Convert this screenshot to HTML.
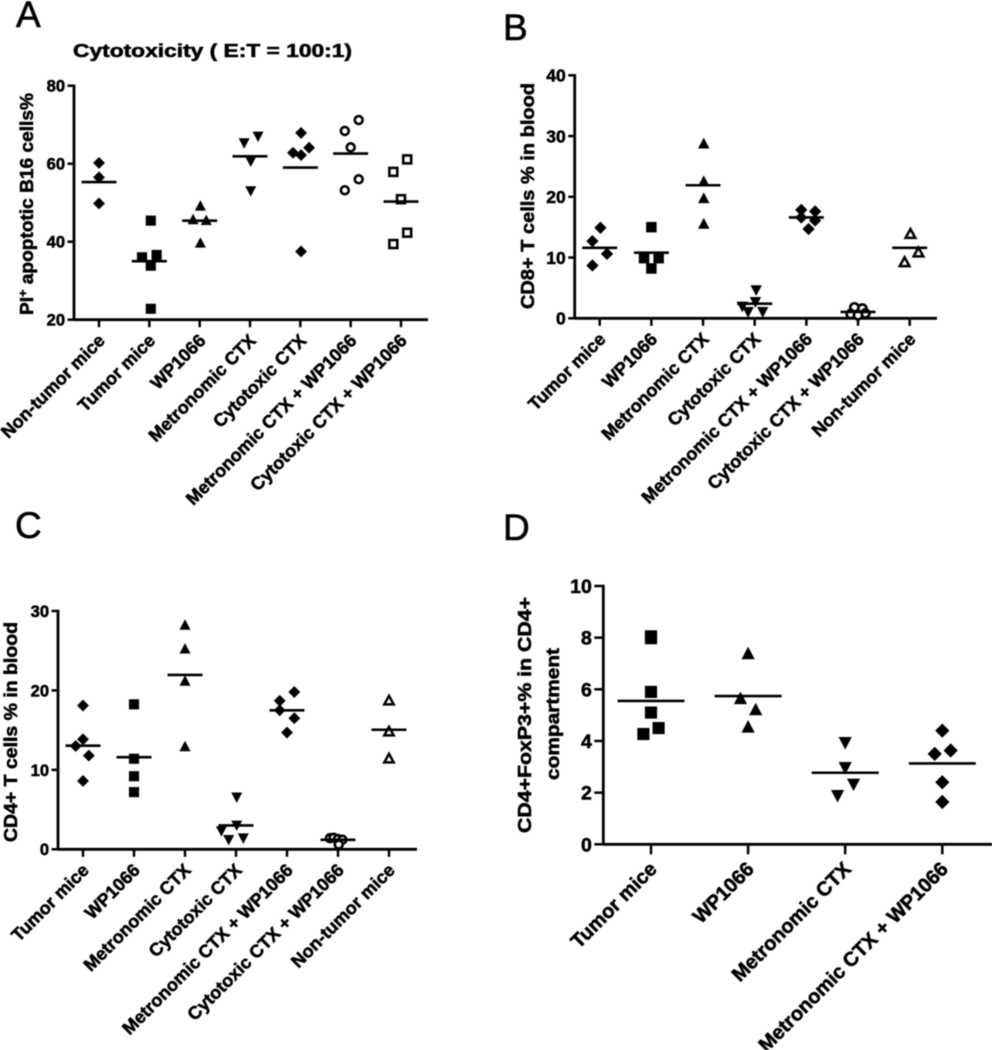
<!DOCTYPE html>
<html lang="en">
<head>
<meta charset="utf-8">
<title>Four-panel scatter dot plots</title>
<style>
html,body{margin:0;padding:0;background:#fff;}
#figure{display:block;width:992px;height:1050px;filter:blur(.45px);}
text{font-family:"Liberation Sans",Arial,sans-serif;fill:#000;}
.t{font-weight:bold;stroke:#000;stroke-width:.55px;}
.p{stroke:#000;stroke-width:.6px;}
</style>
</head>
<body>
<svg id="figure" xmlns="http://www.w3.org/2000/svg" width="992" height="1050" viewBox="0 0 992 1050">
  <text class="p" x="16" y="27" font-size="37">A</text>
  <text class="p" x="503" y="40" font-size="37">B</text>
  <text class="p" x="15" y="538" font-size="37">C</text>
  <text class="p" x="503" y="540" font-size="37">D</text>
  <text class="t" x="73" y="57" font-size="18" textLength="279" lengthAdjust="spacingAndGlyphs">Cytotoxicity ( E:T = 100:1)</text>
  <text class="t" transform="translate(33,315) rotate(-90)" font-size="18" textLength="222" lengthAdjust="spacingAndGlyphs">PI<tspan dy="-6" font-size="12">+</tspan><tspan dy="6"> apoptotic B16 cells%</tspan></text>
  <text class="t" transform="translate(534,309) rotate(-90)" font-size="18" textLength="226" lengthAdjust="spacingAndGlyphs">CD8+ T cells % in blood</text>
  <text class="t" transform="translate(17,842) rotate(-90)" font-size="18" textLength="220" lengthAdjust="spacingAndGlyphs">CD4+ T cells % in blood</text>
  <text class="t" transform="translate(531,833) rotate(-90)" font-size="18" textLength="236" lengthAdjust="spacingAndGlyphs">CD4+FoxP3+% in CD4+</text>
  <text class="t" transform="translate(559,780) rotate(-90)" font-size="18" textLength="132" lengthAdjust="spacingAndGlyphs">compartment</text>
</svg>
<script>
/* ---------- Panel A data ---------- */
const categoriesA = ["Non-tumor mice","Tumor mice","WP1066","Metronomic CTX","Cytotoxic CTX","Metronomic CTX + WP1066","Cytotoxic CTX + WP1066"];
const ticksA = [20,40,60,80];
const valuesA = [
  [60.2,56.5,49.8],
  [45.4,36.0,36.6,33.85,22.8],
  [49.1,45.6,45.4,39.6],
  [65.4,67.1,60.7,53.1],
  [67.9,62.8,62.2,64.1,37.5],
  [71.2,68.4,64.2,56.0,53.2],
  [61.1,57.9,50.9,42.3,39.4]
];
const meansA = [55.3,35.0,45.4,61.9,59.0,62.6,50.3];
/* swarm columns: dodge slot of each dot within its category */
const slotsA = [
  [0,0,0],
  [0.2,-1,1,0.2,0.2],
  [0.1,-0.9,0.9,0.1],
  [-0.8,1.1,0.1,0.1],
  [0.1,-1,0.1,1.2,0.1],
  [1.1,-0.8,0,1.1,-0.8],
  [0.85,-1.05,0,0.85,-1.05]
];
const symbolsA = ["diamond","square","triangle","invTriangle","diamond","openCircle","openSquare"];

/* ---------- Panel B data ---------- */
const categoriesB = ["Tumor mice","WP1066","Metronomic CTX","Cytotoxic CTX","Metronomic CTX + WP1066","Cytotoxic CTX + WP1066","Non-tumor mice"];
const ticksB = [0,10,20,30,40];
const valuesB = [
  [14.9,12.7,10.6,8.7],
  [15.0,9.9,9.9,8.2],
  [28.7,22.5,19.7,15.5],
  [4.7,2.75,2.0,1.1,1.1],
  [17.85,17.6,16.6,16.1,14.7],
  [1.8,1.6,0.7,0.8,0.5],
  [13.85,10.8,9.2]
];
const meansB = [11.6,10.8,21.9,2.4,16.6,1.05,11.6];
const slotsB = [
  [0.1,-1,1,-1],
  [0,-1,1,0],
  [0.1,0.1,0.1,0.1],
  [0.2,0.1,-1.7,-0.9,1.1],
  [-0.7,1.2,-0.7,1.2,0.3],
  [-0.5,0.6,-1,1,0],
  [0.1,1.2,-0.7]
];
const symbolsB = ["diamond","square","triangle","invTriangle","diamond","openCircle","openTriangle"];

/* ---------- Panel C data ---------- */
const categoriesC = ["Tumor mice","WP1066","Metronomic CTX","Cytotoxic CTX","Metronomic CTX + WP1066","Cytotoxic CTX + WP1066","Non-tumor mice"];
const ticksC = [0,10,20,30];
const valuesC = [
  [18.1,13.85,13.0,11.8,8.6],
  [18.25,11.4,9.2,7.2],
  [28.2,25.2,21.15,12.9],
  [6.6,3.06,2.35,1.25,1.45],
  [19.8,18.7,17.5,16.5,14.7],
  [1.4,1.45,1.3,1.2,0.6],
  [18.7,14.8,11.4]
];
const meansC = [13.05,11.6,21.95,3.0,17.5,1.2,15.05];
const slotsC = [
  [0,0,-1,0.8,0],
  [0,0,0,0],
  [0,0,0,0],
  [0.1,0.1,-2,-1,1],
  [1,-1,-1,1,0],
  [-1.1,-0.6,0,0.6,0.1],
  [0,0,0]
];
const symbolsC = ["diamond","square","triangle","invTriangle","diamond","openCircle","openTriangle"];

/* ---------- Panel D data ---------- */
const categoriesD = ["Tumor mice","WP1066","Metronomic CTX","Metronomic CTX + WP1066"];
const ticksD = [0,2,4,6,8,10];
const valuesD = [
  [8.05,7.98,5.9,5.1,4.5,4.27],
  [7.37,5.63,5.2,4.53],
  [3.95,2.98,2.34,1.9],
  [4.4,3.5,3.63,2.4,1.64]
];
const meansD = [5.55,5.74,2.77,3.13];
const slotsD = [
  [0,0,0,0,1,-1],
  [0,-1,1,0],
  [0,0,1.1,-1],
  [0,-1,1.1,0,0]
];
const symbolsD = ["square","triangle","invTriangle","diamond"];

/* ---------- Drawing ---------- */
const svg = document.getElementById("figure");
const NS = "http://www.w3.org/2000/svg";

function make(tag, attrs, parent){
  const n = document.createElementNS(NS, tag);
  for (const k in attrs) n.setAttribute(k, attrs[k]);
  parent.appendChild(n);
  return n;
}

function linearScale(d0, d1, r0, r1){
  return function(v){ return r0 + (v - d0) * (r1 - r0) / (d1 - d0); };
}

function drawSymbol(kind, cx, cy, s, parent){
  if (kind === "diamond"){
    return make("path", {d:`M${cx} ${cy-s*1.08}L${cx+s*1.08} ${cy}L${cx} ${cy+s*1.08}L${cx-s*1.08} ${cy}Z`, fill:"#000"}, parent);
  }
  if (kind === "square"){
    return make("rect", {x:cx-s*.92, y:cy-s*.92, width:s*1.84, height:s*1.84, fill:"#000"}, parent);
  }
  if (kind === "triangle"){
    return make("path", {d:`M${cx} ${cy-s*1.1}L${cx+s} ${cy+s*.8}L${cx-s} ${cy+s*.8}Z`, fill:"#000"}, parent);
  }
  if (kind === "invTriangle"){
    return make("path", {d:`M${cx} ${cy+s*1.1}L${cx+s} ${cy-s*.8}L${cx-s} ${cy-s*.8}Z`, fill:"#000"}, parent);
  }
  if (kind === "openCircle"){
    return make("circle", {cx:cx, cy:cy, r:s*.72, fill:"#fff", stroke:"#000", "stroke-width":2.6}, parent);
  }
  if (kind === "openSquare"){
    return make("rect", {x:cx-s*.72, y:cy-s*.72, width:s*1.44, height:s*1.44, fill:"#fff", stroke:"#000", "stroke-width":2.6}, parent);
  }
  return make("path", {d:`M${cx} ${cy-s*.9}L${cx+s*.85} ${cy+s*.65}L${cx-s*.85} ${cy+s*.65}Z`, fill:"#fff", stroke:"#000", "stroke-width":2.5}, parent);
}

function drawPanel(key, layout, categories, ticks, values, means, slots, symbols){
  const y = linearScale(layout.yMin, layout.yMax, layout.yBottom, layout.yTop);
  const x = linearScale(0, categories.length - 1, layout.xFirst, layout.xLast);
  const group = make("g", {}, svg);
  
  

  const yAxis = make("line", {x1:layout.axisX, x2:layout.axisX, y1:y(layout.yMax)-1.2, y2:y(layout.yMin)+1.2, stroke:"#000", "stroke-width":2.8}, group);
  
  
  const xAxis = make("line", {x1:layout.axisX, x2:layout.xEnd, y1:y(layout.yMin), y2:y(layout.yMin), stroke:"#000", "stroke-width":2.8}, group);
  
  

  ticks.forEach(function(t){
    const tick = make("line", {x1:layout.axisX-layout.tickLen, x2:layout.axisX, y1:y(t), y2:y(t), stroke:"#000", "stroke-width":2.5}, group);
    
    
    const label = make("text", {x:layout.axisX-layout.tickLen-2.5, y:y(t)+layout.tickSize*.36, "text-anchor":"end", "font-size":layout.tickSize, class:"t"}, group);
    label.textContent = t;
    
    
  });

  categories.forEach(function(cat, i){
    const cx = x(i);
    const tick = make("line", {x1:cx, x2:cx, y1:y(layout.yMin), y2:y(layout.yMin)+layout.tickLen+1, stroke:"#000", "stroke-width":2.5}, group);
    
    
    const lx = cx + layout.labelDx;
    const ly = y(layout.yMin) + layout.labelDy;
    const label = make("text", {transform:`translate(${lx},${ly}) rotate(-45)`, "text-anchor":"end", "font-size":layout.labelSize, class:"t"}, group);
    label.textContent = cat;
    
    

    values[i].forEach(function(v, j){
      const mark = drawSymbol(symbols[i], cx + slots[i][j] * layout.slotWidth, y(v), layout.symbolSize, group);
      
      
    });

    const mean = make("line", {x1:cx-layout.meanHalf, x2:cx+layout.meanHalf, y1:y(means[i]), y2:y(means[i]), stroke:"#000", "stroke-width":2.6}, group);
    
    
  });
}

drawPanel("A",
  {yMin:20,yMax:80,yTop:85.7,yBottom:319.7,xFirst:99,xLast:401,axisX:74,xEnd:428,tickLen:6.5,tickSize:16.5,labelSize:18,labelDx:7,labelDy:22,slotWidth:7.3,symbolSize:5.5,meanHalf:17.5},
  categoriesA,ticksA,valuesA,meansA,slotsA,symbolsA);
drawPanel("B",
  {yMin:0,yMax:40,yTop:75.3,yBottom:318.3,xFirst:599.7,xLast:909.7,axisX:574.7,xEnd:937,tickLen:6.5,tickSize:17.5,labelSize:18,labelDx:7,labelDy:22,slotWidth:7.3,symbolSize:5.7,meanHalf:17.5},
  categoriesB,ticksB,valuesB,meansB,slotsB,symbolsB);
drawPanel("C",
  {yMin:0,yMax:30,yTop:611,yBottom:849.3,xFirst:83,xLast:389,axisX:58,xEnd:417,tickLen:6.5,tickSize:16.5,labelSize:18,labelDx:7,labelDy:22,slotWidth:7.3,symbolSize:5.5,meanHalf:17.5},
  categoriesC,ticksC,valuesC,meansC,slotsC,symbolsC);
drawPanel("D",
  {yMin:0,yMax:10,yTop:586,yBottom:844.3,xFirst:651,xLast:942.3,axisX:603.3,xEnd:992,tickLen:9,tickSize:19.5,labelSize:20,labelDx:7,labelDy:26,slotWidth:7.6,symbolSize:6.6,meanHalf:33.5},
  categoriesD,ticksD,valuesD,meansD,slotsD,symbolsD);
</script>
</body>
</html>
